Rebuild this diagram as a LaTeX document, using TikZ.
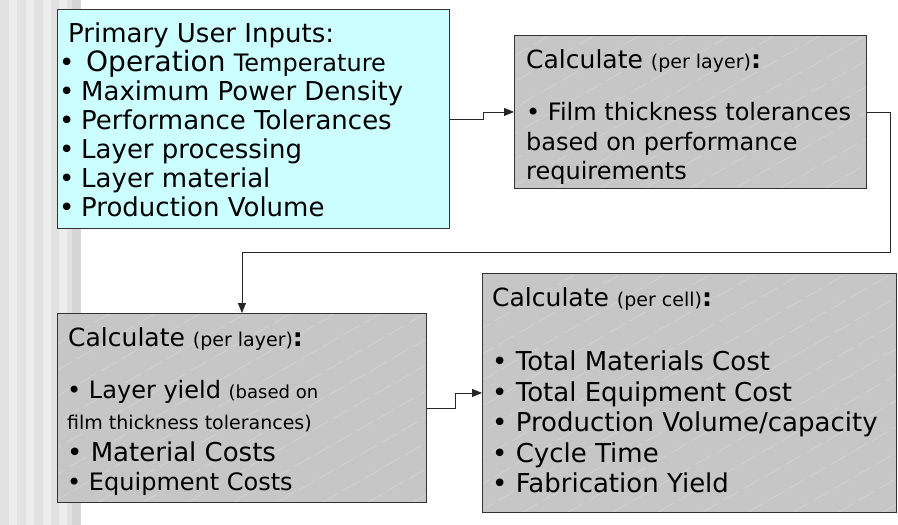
\documentclass[tikz,border=0pt]{standalone}
\usepackage{fontspec}
\setmainfont{DejaVu Sans}
\usepackage{tikz}
\usetikzlibrary{calc, arrows.meta}

\definecolor{cyanbox}{RGB}{204,255,255}
\definecolor{boxgray}{RGB}{198,198,198}
\definecolor{stripeA}{RGB}{226,226,226}
\definecolor{stripeB}{RGB}{237,237,237}
\definecolor{stripeC}{RGB}{214,214,214}

\tikzstyle{arrow} = [line width=0.8pt, draw=black!85, -{Triangle[length=10pt,width=8pt]}]

\newcommand{\fs}[1]{\fontsize{#1}{#1}\selectfont}
\newcommand{\dotitem}{\makebox[22pt][l]{•}}

\tikzset{
  box/.style={draw=black!80, line width=0.9pt, anchor=north west, inner sep=0pt},
  sheen/.style={draw=white, opacity=0.25, line width=0.6pt, dash pattern=on 18pt off 6pt},
  hatched/.style={fill=boxgray, path picture={
      \foreach \k in {0,...,26}
        \draw[sheen] ($(path picture bounding box.south west)+(\k*45-320,0)$) -- ++(460,-265);
    }},
  txt/.style={anchor=base west, inner sep=0pt},
}

\begin{document}
\begin{tikzpicture}[x=1pt, y=-1pt]
  \useasboundingbox (0,0) rectangle (898,525);

  %striped band down the left side
  \fill[stripeA] (0,0) rectangle (72,525);
  \foreach \x in {9,26,43,59}
    \fill[stripeB] (\x,0) rectangle ({\x+8},525);
  \fill[stripeC] (72,0) rectangle (81,525);

  %the four boxes
  \node[box, fill=cyanbox, minimum width=392pt, minimum height=219pt] (inputs) at (57,9) {};
  \node[box, hatched, minimum width=352pt, minimum height=153pt] (tol) at (514,35) {};
  \node[box, hatched, minimum width=369pt, minimum height=189pt] (yield) at (57,313) {};
  \node[box, hatched, minimum width=414pt, minimum height=239pt] (cost) at (482,273) {};

  %user inputs
  \node[txt, font=\fs{26}] (head1) at (68,42) {Primary User Inputs:};
  \node[txt, font=\fs{26}] (in0) at (59,71) {\dotitem\hspace{5pt}{\fs{28}Operation} {\fs{24}Temperature}};
  \foreach \t [count=\i] in {Maximum Power Density, Performance Tolerances, Layer processing, Layer material, Production Volume}
    \node[txt, font=\fs{26}] (in\i) at (59,{71+29*\i}) {\dotitem\t};

  %film tolerances per layer
  \node[txt, font=\fs{25}] (head2) at (526,68) {Calculate {\fs{19}(per layer)}\textbf{:}};
  \node[txt, font=\fs{24}] (tol1) at (526,120) {•\ Film thickness tolerances};
  \node[txt, font=\fs{24}] (tol2) at (526,150) {based on performance};
  \node[txt, font=\fs{24}] (tol3) at (526,179) {requirements};

  %yield and costs per layer
  \node[txt, font=\fs{25}] (head3) at (68,346) {Calculate {\fs{19}(per layer)}\textbf{:}};
  \node[txt, font=\fs{24}] (y1) at (67,398) {•\ Layer yield {\fs{18}(based on}};
  \node[txt, font=\fs{19}] (y2) at (67,429) {film thickness tolerances)};
  \node[txt, font=\fs{26}] (y3) at (67,461) {•\ Material Costs};
  \node[txt, font=\fs{24}] (y4) at (67,490) {•\ Equipment Costs};

  %totals per cell
  \node[txt, font=\fs{25}] (head4) at (492,306) {Calculate {\fs{19}(per cell)}\textbf{:}};
  \foreach \t [count=\i] in {Total Materials Cost, Total Equipment Cost, Production Volume/capacity, Cycle Time, Fabrication Yield}
    \node[txt, font=\fs{26}] (c\i) at (492,{340+30.5*\i}) {•\ \t};

  %connectors
  \coordinate (turn) at (890,252);
  \draw[arrow] (inputs.east) -- ++(33,0) |- (tol.west);
  \draw[arrow] (tol.east) -| (turn) -| (yield.north);
  \draw[arrow] (yield.east) -- ++(28,0) |- (cost.west);
\end{tikzpicture}
\end{document}
